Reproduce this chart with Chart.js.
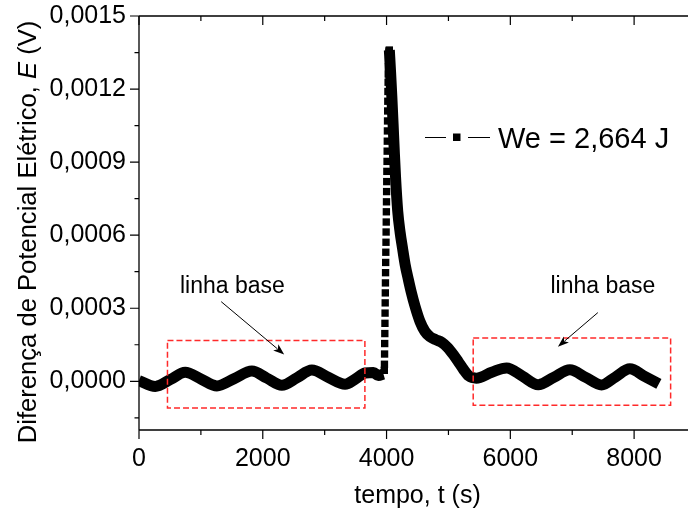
<!DOCTYPE html>
<html>
<head>
<meta charset="utf-8">
<script src="https://cdn.jsdelivr.net/npm/chart.js@4.4.1/dist/chart.umd.min.js"></script>
<style>
  html, body { margin: 0; padding: 0; background: #fff; overflow: hidden; width: 688px; height: 512px; }
  #wrap { position: absolute; left: 0; top: 0; width: 720px; height: 512px; }
</style>
</head>
<body>
<div id="wrap"><canvas id="c" width="720" height="512"></canvas></div>
<script>
const FONT = 'Arial, "Liberation Sans", sans-serif';

// Baseline before the pulse: time (s) and potential difference (V)
const baseTimeLeft = [0, 263, 505, 747, 1003, 1259, 1540, 1824, 2066, 2308, 2550, 2793, 3060, 3330, 3500, 3653, 3787, 3868, 3950];
const baseValueLeft = [0.000003, -0.000021, 0.000007, 0.000037, 0.000009, -0.000019, 0.000011, 0.000042, 0.000013, -0.000016, 0.000014, 0.000046, 0.000016, -0.000012, 0.000010, 0.000034, 0.000036, 0.000024, 0.000030];

// Rising edge of the pulse (individual samples)
const riseTime = [3964, 3966, 3968, 3970, 3972, 3974, 3976, 3978, 3980, 3982, 3984, 3986, 3988, 3991, 3993, 3995, 3997, 3999, 4001, 4003, 4005, 4008, 4010, 4012, 4014, 4016, 4018, 4020, 4022, 4025, 4027, 4030, 4033, 4036, 4039, 4042, 4045];
const riseValue = [0.000045, 0.000070, 0.000112, 0.000155, 0.000196, 0.000238, 0.000280, 0.000322, 0.000363, 0.000404, 0.000446, 0.000488, 0.000530, 0.000571, 0.000613, 0.000654, 0.000696, 0.000737, 0.000779, 0.000820, 0.000862, 0.000903, 0.000945, 0.000986, 0.001028, 0.001069, 0.001110, 0.001150, 0.001190, 0.001228, 0.001262, 0.001292, 0.001318, 0.001338, 0.001352, 0.001358, 0.001360];

// Decay after the peak and baseline afterwards
const decayTime = [4045, 4065, 4085, 4105, 4125, 4145, 4180, 4220, 4256, 4300, 4353, 4400, 4460, 4541, 4620, 4702, 4800, 4891, 4990, 5078, 5160, 5240, 5330, 5450, 5700, 5940, 6195, 6450, 6706, 6962, 7218, 7474, 7700, 7931, 8170, 8400];
const decayValue = [0.001360, 0.001270, 0.001170, 0.001060, 0.000945, 0.000840, 0.000700, 0.000610, 0.000550, 0.000480, 0.000417, 0.000365, 0.000308, 0.000245, 0.000205, 0.000183, 0.000170, 0.000160, 0.000138, 0.000110, 0.000080, 0.000050, 0.000022, 0.000013, 0.000037, 0.000055, 0.000021, -0.000014, 0.000017, 0.000047, 0.000016, -0.000015, 0.000018, 0.000051, 0.000020, -0.000011];

// Axis ticks
const xTickValues = [0, 2000, 4000, 6000, 8000];
const xMinorValues = [1000, 3000, 5000, 7000];
const yTickValues = [0, 0.0003, 0.0006, 0.0009, 0.0012, 0.0015];
const yMinorValues = [-0.00015, 0.00015, 0.00045, 0.00075, 0.00105, 0.00135];

// Texts
const seriesLabel = 'We = 2,664 J';
const xTitle = 'tempo, t (s)';
const yTitleParts = [['Diferença de Potencial Elétrico, ', false], ['E', true], [' (V)', false]];
const noteText = 'linha base';

// Baseline windows (data units) and their pointer notes
const baseWindows = [
  { t0: 460, t1: 3650, v0: -0.00011, v1: 0.000168 },
  { t0: 5400, t1: 8590, v0: -0.0000985, v1: 0.000178 }
];
const baseNotes = [
  { from: [1328, 0.000327], to: [2346, 0.00011], text: [1509, 0.000364] },
  { from: [7414, 0.000282], to: [6769, 0.000142], text: [7495, 0.000364] }
];

const toPoints = (ts, vs) => ts.map((t, i) => ({ x: t, y: vs[i] }));

const decor = {
  id: 'decor',
  afterDatasetsDraw(chart) {
    const { ctx, scales: { x, y } } = chart;
    ctx.save();
    // dashed red windows
    ctx.strokeStyle = '#ff2a2a';
    ctx.lineWidth = 1.5;
    ctx.setLineDash([6, 3]);
    baseWindows.forEach(b => {
      const l = x.getPixelForValue(b.t0);
      const r = x.getPixelForValue(b.t1);
      const t = y.getPixelForValue(b.v1);
      const bt = y.getPixelForValue(b.v0);
      ctx.strokeRect(l, t, r - l, bt - t);
    });
    ctx.setLineDash([]);
    // arrows and notes
    ctx.strokeStyle = '#000';
    ctx.fillStyle = '#000';
    ctx.font = '23px ' + FONT;
    ctx.textAlign = 'center';
    ctx.textBaseline = 'alphabetic';
    baseNotes.forEach(n => {
      const x0 = x.getPixelForValue(n.from[0]), y0 = y.getPixelForValue(n.from[1]);
      const x1 = x.getPixelForValue(n.to[0]), y1 = y.getPixelForValue(n.to[1]);
      const a = Math.atan2(y1 - y0, x1 - x0);
      const hl = 11, hw = 4;
      ctx.lineWidth = 1;
      ctx.beginPath();
      ctx.moveTo(x0, y0);
      ctx.lineTo(x1 - Math.cos(a) * hl * 0.8, y1 - Math.sin(a) * hl * 0.8);
      ctx.stroke();
      ctx.beginPath();
      ctx.moveTo(x1, y1);
      ctx.lineTo(x1 - Math.cos(a) * hl - Math.sin(a) * hw, y1 - Math.sin(a) * hl + Math.cos(a) * hw);
      ctx.lineTo(x1 - Math.cos(a) * hl * 0.75, y1 - Math.sin(a) * hl * 0.75);
      ctx.lineTo(x1 - Math.cos(a) * hl + Math.sin(a) * hw, y1 - Math.sin(a) * hl - Math.cos(a) * hw);
      ctx.closePath();
      ctx.fill();
      ctx.fillText(noteText, x.getPixelForValue(n.text[0]), y.getPixelForValue(n.text[1]));
    });
    ctx.restore();
  },
  afterDraw(chart) {
    const { ctx, chartArea: a, scales: { x, y } } = chart;
    ctx.save();
    ctx.strokeStyle = '#000';
    ctx.lineWidth = 1.3;
    // frame
    ctx.beginPath();
    ctx.moveTo(a.left, a.top); ctx.lineTo(a.right, a.top);
    ctx.moveTo(a.left, a.bottom); ctx.lineTo(a.right, a.bottom);
    ctx.moveTo(a.left, a.top); ctx.lineTo(a.left, a.bottom);
    ctx.moveTo(a.right, a.top); ctx.lineTo(a.right, a.bottom);
    ctx.stroke();
    // tick marks: outward on bottom/left, inward on top
    ctx.lineWidth = 1.2;
    ctx.beginPath();
    const xt = (v, len) => {
      const p = x.getPixelForValue(v);
      ctx.moveTo(p, a.bottom); ctx.lineTo(p, a.bottom + len);
      ctx.moveTo(p, a.top); ctx.lineTo(p, a.top + len);
    };
    const yt = (v, len) => {
      const p = y.getPixelForValue(v);
      ctx.moveTo(a.left, p); ctx.lineTo(a.left - len, p);
    };
    xTickValues.forEach(v => xt(v, 9));
    xMinorValues.forEach(v => xt(v, 5));
    yTickValues.forEach(v => yt(v, 9));
    yMinorValues.forEach(v => yt(v, 4.5));
    ctx.stroke();

    // legend: line - square - line, then label
    const ly = 137.5;
    ctx.lineWidth = 1.2;
    ctx.beginPath();
    ctx.moveTo(425, ly); ctx.lineTo(446, ly);
    ctx.moveTo(468, ly); ctx.lineTo(490, ly);
    ctx.stroke();
    ctx.fillStyle = '#000';
    ctx.fillRect(453, ly - 4, 7.5, 7.5);
    ctx.font = '29px ' + FONT;
    ctx.textAlign = 'left';
    ctx.textBaseline = 'alphabetic';
    ctx.fillText(seriesLabel, 498, 148);

    // x title
    ctx.font = '25px ' + FONT;
    ctx.textAlign = 'center';
    ctx.fillText(xTitle, (a.left + a.right) / 2, 503);

    // y title with italic symbol
    const fonts = yTitleParts.map(p => (p[1] ? 'italic ' : '') + '25.6px ' + FONT);
    let total = 0;
    const widths = yTitleParts.map((p, i) => { ctx.font = fonts[i]; const w = ctx.measureText(p[0]).width; total += w; return w; });
    ctx.translate(36, 232);
    ctx.rotate(-Math.PI / 2);
    ctx.textAlign = 'left';
    let cx = -total / 2;
    yTitleParts.forEach((p, i) => { ctx.font = fonts[i]; ctx.fillText(p[0], cx, 0); cx += widths[i]; });
    ctx.restore();
  }
};

const tickFont = { family: FONT, size: 25 };

new Chart(document.getElementById('c'), {
  type: 'line',
  data: {
    datasets: [
      {
        label: seriesLabel,
        data: toPoints(baseTimeLeft, baseValueLeft),
        borderColor: '#000', borderWidth: 11, pointRadius: 0,
        cubicInterpolationMode: 'monotone', borderCapStyle: 'butt', clip: 0
      },
      {
        label: seriesLabel,
        data: toPoints(riseTime, riseValue),
        showLine: false, pointStyle: 'rect', pointRadius: 5.2,
        pointBackgroundColor: '#000', pointBorderWidth: 0, borderColor: '#000'
      },
      {
        label: seriesLabel,
        data: toPoints(decayTime, decayValue),
        borderColor: '#000', borderWidth: 11, pointRadius: 0,
        cubicInterpolationMode: 'monotone', borderCapStyle: 'butt', clip: 0
      }
    ]
  },
  options: {
    responsive: false,
    animation: false,
    devicePixelRatio: 1,
    layout: { padding: { left: 0, right: 24, top: 16, bottom: 0 } },
    plugins: { legend: { display: false }, tooltip: { enabled: false } },
    scales: {
      x: {
        type: 'linear', min: 0, max: 9000,
        afterBuildTicks: s => { s.ticks = xTickValues.map(v => ({ value: v })); },
        afterFit: s => { s.height = 82; s.paddingLeft = 0; s.paddingRight = 0; },
        grid: { display: false, drawTicks: false },
        border: { display: false },
        ticks: { font: tickFont, color: '#000', padding: 14, maxRotation: 0, autoSkip: false,
                 callback: v => String(v) }
      },
      y: {
        type: 'linear', min: -0.0002, max: 0.0015,
        afterBuildTicks: s => { s.ticks = yTickValues.map(v => ({ value: v })); },
        afterFit: s => { s.width = 139; s.paddingTop = 0; s.paddingBottom = 0; s.paddingLeft = 0; s.paddingRight = 0; },
        grid: { display: false, drawTicks: false },
        border: { display: false },
        ticks: { font: tickFont, color: '#000', padding: 13, autoSkip: false,
                 callback: v => v.toFixed(4).replace('.', ',') }
      }
    }
  },
  plugins: [decor]
});
</script>
</body>
</html>
